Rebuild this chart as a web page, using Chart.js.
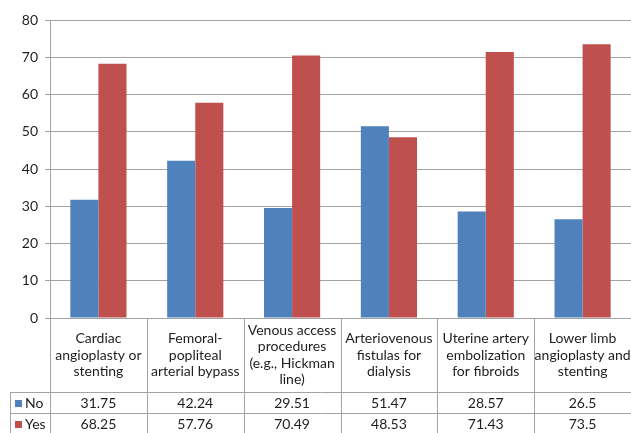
<!DOCTYPE html>
<html>
<head>
<meta charset="utf-8">
<script src="https://cdn.jsdelivr.net/npm/chart.js@4.4.1/dist/chart.umd.min.js"></script>
<style>
  html, body { margin: 0; padding: 0; background: #ffffff; }
  #wrap { width: 631px; height: 433px; position: relative; }
</style>
</head>
<body>
<div id="wrap"><canvas id="chart" width="631" height="433"></canvas></div>
<script>
// Procedure categories (multi-line header text for the data table)
const categories = [
  ["Cardiac", "angioplasty or", "stenting"],
  ["Femoral-", "popliteal", "arterial bypass"],
  ["Venous access", "procedures", "(e.g., Hickman", "line)"],
  ["Arteriovenous", "fistulas for", "dialysis"],
  ["Uterine artery", "embolization", "for fibroids"],
  ["Lower limb", "angioplasty and", "stenting"]
];
const seriesNames = ["No", "Yes"];
const noValues = [31.75, 42.24, 29.51, 51.47, 28.57, 26.5];
const yesValues = [68.25, 57.76, 70.49, 48.53, 71.43, 73.5];
const yTicks = [0, 10, 20, 30, 40, 50, 60, 70, 80];

const BLUE = "#4f81bd";
const RED = "#c0504d";
const GRID = "#a3a3a3";
const TEXT = "#1e1e1e";
const FONT = "Lato, 'Open Sans', sans-serif";

// Draws the data table (category headers, legend keys and values) under the plot
const dataTablePlugin = {
  id: "dataTable",
  afterDraw(chart) {
    const ctx = chart.ctx;
    const area = chart.chartArea;
    const xs = chart.scales.x;
    const n = categories.length;
    const colW = (area.right - area.left) / n;
    const top = area.bottom;
    const headerBottom = top + 74;
    const rowH = 21;
    const tableLeft = 10;
    const bottom = headerBottom + rowH * 2 + 2;

    ctx.save();
    ctx.strokeStyle = GRID;
    ctx.lineWidth = 1;
    ctx.beginPath();
    // column dividers
    for (let i = 0; i <= n; i++) {
      const x = Math.round(area.left + i * colW) + 0.5;
      ctx.moveTo(x, top);
      ctx.lineTo(x, bottom);
    }
    // row separators
    [headerBottom, headerBottom + rowH].forEach(y => {
      ctx.moveTo(tableLeft, Math.round(y) + 0.5);
      ctx.lineTo(area.right, Math.round(y) + 0.5);
    });
    // legend column left edge
    ctx.moveTo(tableLeft + 0.5, headerBottom);
    ctx.lineTo(tableLeft + 0.5, bottom);
    ctx.stroke();

    // header text
    ctx.fillStyle = TEXT;
    ctx.font = "14px " + FONT;
    ctx.textAlign = "center";
    ctx.textBaseline = "middle";
    const lineH = 16.5;
    const headerMid = (top + headerBottom) / 2;
    categories.forEach((lines, i) => {
      const cx = xs.getPixelForValue(i);
      const start = headerMid - (lines.length - 1) * lineH / 2;
      lines.forEach((t, k) => ctx.fillText(t, cx, start + k * lineH));
    });

    // value rows with legend keys
    const rows = [noValues, yesValues];
    const colors = [BLUE, RED];
    rows.forEach((vals, r) => {
      const cy = headerBottom + rowH * r + rowH / 2 + 1;
      ctx.fillStyle = colors[r];
      ctx.fillRect(15, Math.round(cy) - 4, 7, 7);
      ctx.fillStyle = TEXT;
      ctx.textAlign = "left";
      ctx.fillText(seriesNames[r], 25, cy);
      ctx.textAlign = "center";
      vals.forEach((v, i) => ctx.fillText(String(v), xs.getPixelForValue(i), cy));
    });
    ctx.restore();
  }
};

new Chart(document.getElementById("chart"), {
  type: "bar",
  data: {
    labels: categories.map(c => c.join(" ")),
    datasets: [
      { label: seriesNames[0], data: noValues, backgroundColor: BLUE, borderWidth: 0 },
      { label: seriesNames[1], data: yesValues, backgroundColor: RED, borderWidth: 0 }
    ]
  },
  options: {
    responsive: false,
    animation: false,
    events: [],
    layout: { padding: { top: 20, bottom: 115, left: 0, right: 0 } },
    datasets: { bar: { categoryPercentage: 0.58, barPercentage: 1.0 } },
    plugins: {
      legend: { display: false },
      tooltip: { enabled: false }
    },
    scales: {
      x: { display: false },
      y: {
        min: 0,
        max: 80,
        afterFit(scale) { scale.width = 50; },
        afterBuildTicks(scale) { scale.ticks = yTicks.map(v => ({ value: v })); },
        border: { display: true, color: GRID, width: 1 },
        grid: { color: GRID, lineWidth: 1, drawTicks: true, tickLength: 5, tickColor: GRID },
        ticks: { padding: 7, color: TEXT, font: { family: FONT, size: 14 } }
      }
    }
  },
  plugins: [dataTablePlugin]
});
</script>
</body>
</html>
